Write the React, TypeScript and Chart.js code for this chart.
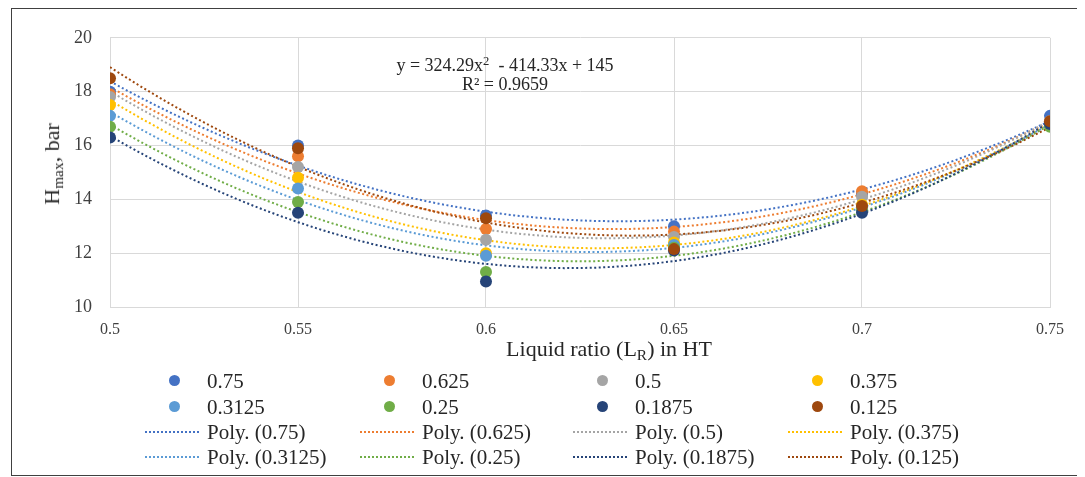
import React, { useEffect, useRef } from "react";
import { Chart, registerables } from "chart.js";

Chart.register(...registerables);

// ---------- data ----------
const xValues = [0.5, 0.55, 0.6, 0.65, 0.7, 0.75];
const xTicks = [0.5, 0.55, 0.6, 0.65, 0.7, 0.75];
const yTicks = [10, 12, 14, 16, 18, 20];

const seriesNames = ["0.75", "0.625", "0.5", "0.375", "0.3125", "0.25", "0.1875", "0.125"];
const s0750 = [18.0, 16.0, 13.4, 13.0, 14.2, 17.1];
const s0625 = [17.9, 15.6, 12.9, 12.8, 14.3, 16.9];
const s0500 = [17.8, 15.2, 12.5, 12.6, 14.1, 16.9];
const s0375 = [17.5, 14.8, 12.0, 12.4, 13.8, 16.8];
const s03125 = [17.1, 14.4, 11.9, 12.3, 13.7, 16.8];
const s0250 = [16.7, 13.9, 11.3, 12.2, 13.6, 16.7];
const s01875 = [16.3, 13.5, 10.95, 12.1, 13.5, 16.8];
const s0125 = [18.5, 15.9, 13.3, 12.15, 13.75, 16.9];
const seriesValues = [s0750, s0625, s0500, s0375, s03125, s0250, s01875, s0125];

const seriesColors = ["#4472C4", "#ED7D31", "#A5A5A5", "#FFC000", "#5B9BD5", "#70AD47", "#264478", "#9E480E"];

const equationLine1 = ["y = 324.29x", "2", "\u00a0 - 414.33x + 145"];
const equationLine2 = "R\u00b2 = 0.9659";

const SERIF = '"Liberation Serif", "Times New Roman", serif';

// least-squares quadratic trendline (as Excel's "Poly." order 2 trendline)
function quadFit(xs: number[], ys: number[]) {
  let n = xs.length, sx = 0, sx2 = 0, sx3 = 0, sx4 = 0, sy = 0, sxy = 0, sx2y = 0;
  for (let i = 0; i < n; i++) {
    const x = xs[i], y = ys[i];
    sx += x; sx2 += x * x; sx3 += x * x * x; sx4 += x * x * x * x;
    sy += y; sxy += x * y; sx2y += x * x * y;
  }
  const det3 = (m: number[][]) =>
    m[0][0] * (m[1][1] * m[2][2] - m[1][2] * m[2][1]) -
    m[0][1] * (m[1][0] * m[2][2] - m[1][2] * m[2][0]) +
    m[0][2] * (m[1][0] * m[2][1] - m[1][1] * m[2][0]);
  const A = [[n, sx, sx2], [sx, sx2, sx3], [sx2, sx3, sx4]];
  const B = [sy, sxy, sx2y];
  const D = det3(A);
  const col = (k: number) => A.map((row, r) => row.map((v, c) => (c === k ? B[r] : v)));
  const c0 = det3(col(0)) / D, c1 = det3(col(1)) / D, c2 = det3(col(2)) / D;
  return (x: number) => c0 + c1 * x + c2 * x * x;
}

const CANVAS_W = 1065;
const CANVAS_H = 466;

export default function App() {
  const ref = useRef<HTMLCanvasElement | null>(null);

  useEffect(() => {
    if (!ref.current) return;
    const scatterSets = seriesNames.map((name, i) => ({
      type: "scatter" as const,
      label: name,
      data: xValues.map((x, j) => ({ x, y: seriesValues[i][j] })),
      pointRadius: 6,
      pointHoverRadius: 6,
      pointBackgroundColor: seriesColors[i],
      pointBorderColor: seriesColors[i],
      pointBorderWidth: 0,
      showLine: false,
      order: 100 - i,
    }));
    const trendSets = seriesNames.map((name, i) => {
      const f = quadFit(xValues, seriesValues[i]);
      const x0 = xValues[0], x1 = xValues[xValues.length - 1];
      const steps = 60;
      const pts = [];
      for (let k = 0; k <= steps; k++) {
        const x = x0 + ((x1 - x0) * k) / steps;
        pts.push({ x, y: f(x) });
      }
      return {
        type: "line" as const,
        label: "Poly. (" + name + ")",
        data: pts,
        borderColor: seriesColors[i],
        borderWidth: 2,
        borderDash: [2, 2.5],
        pointRadius: 0,
        fill: false,
        tension: 0,
        order: 200 - i,
      };
    });

    const chart = new Chart(ref.current, {
      type: "scatter",
      data: { datasets: [...scatterSets, ...trendSets] as any },
      options: {
        animation: false,
        responsive: false,
        events: [],
        layout: { padding: { left: 0, top: 18, right: 25, bottom: 128 } },
        plugins: { legend: { display: false }, tooltip: { enabled: false } },
        scales: {
          x: {
            type: "linear",
            min: 0.5,
            max: 0.75,
            afterBuildTicks: (s: any) => { s.ticks = xTicks.map((v) => ({ value: v })); },
            afterFit: (s: any) => { s.height = 40; },
            ticks: {
              color: "#404040",
              font: { family: SERIF, size: 16 },
              padding: 13,
              maxRotation: 0,
              autoSkip: false,
              callback: (v: any) => String(Number(Number(v).toFixed(2))),
            },
            grid: { color: "#D9D9D9", lineWidth: 1, drawTicks: false },
            border: { color: "#D9D9D9" },
          },
          y: {
            type: "linear",
            min: 10,
            max: 20,
            afterBuildTicks: (s: any) => { s.ticks = yTicks.map((v) => ({ value: v })); },
            afterFit: (s: any) => { s.width = 98; },
            ticks: {
              color: "#404040",
              font: { family: SERIF, size: 18 },
              padding: 18,
            },
            grid: { color: "#D9D9D9", lineWidth: 1, drawTicks: false },
            border: { color: "#D9D9D9" },
          },
        },
      },
    });
    return () => chart.destroy();
  }, []);

  const colStarts = [133, 348, 561, 776];
  const rowCenters = [372, 398, 423, 448];
  const legendItems: { kind: "marker" | "line"; color: string; text: string }[] = [];
  seriesNames.forEach((n, i) => legendItems.push({ kind: "marker", color: seriesColors[i], text: n }));
  seriesNames.forEach((n, i) => legendItems.push({ kind: "line", color: seriesColors[i], text: "Poly. (" + n + ")" }));

  return (
    <div
      style={{
        position: "relative",
        marginLeft: 3,
        width: CANVAS_W,
        height: CANVAS_H,
        border: "1px solid #404040",
        background: "#fff",
        fontFamily: SERIF,
        color: "#262626",
      }}
    >
      <canvas ref={ref} width={CANVAS_W} height={CANVAS_H} style={{ position: "absolute", left: 0, top: 0 }} />

      {/* y axis title */}
      <div style={{ position: "absolute", left: 43, top: 155, width: 0, height: 0 }}>
        <div
          style={{
            position: "absolute",
            transform: "translate(-50%, -50%) rotate(-90deg)",
            whiteSpace: "nowrap",
            fontSize: 22,
            lineHeight: "24px",
          }}
        >
          H<sub style={{ fontSize: "0.7em", verticalAlign: "-0.25em" }}>max</sub>, bar
        </div>
      </div>

      {/* x axis title */}
      <div
        style={{
          position: "absolute",
          left: 597,
          top: 343,
          transform: "translate(-50%, -50%)",
          whiteSpace: "nowrap",
          fontSize: 22,
          lineHeight: "24px",
        }}
      >
        Liquid ratio (L<sub style={{ fontSize: "0.7em", verticalAlign: "-0.25em" }}>R</sub>) in HT
      </div>

      {/* trendline equation */}
      <div
        style={{
          position: "absolute",
          left: 493,
          top: 47,
          transform: "translateX(-50%)",
          textAlign: "center",
          whiteSpace: "nowrap",
          fontSize: 18,
          lineHeight: "19px",
          color: "#262626",
        }}
      >
        <div>
          {equationLine1[0]}
          <sup style={{ fontSize: "0.7em", verticalAlign: "0.5em", lineHeight: 0 }}>{equationLine1[1]}</sup>
          {equationLine1[2]}
        </div>
        <div>{equationLine2}</div>
      </div>

      {/* legend */}
      {legendItems.map((it, idx) => {
        const col = idx % 4;
        const row = Math.floor(idx / 4);
        const left = colStarts[col];
        const cy = rowCenters[row];
        return (
          <div key={idx} style={{ position: "absolute", left, top: cy - 12, height: 24, width: 214 }}>
            {it.kind === "marker" ? (
              <div
                style={{
                  position: "absolute",
                  left: 24,
                  top: 6,
                  width: 11,
                  height: 11,
                  borderRadius: "50%",
                  background: it.color,
                }}
              />
            ) : (
              <div
                style={{
                  position: "absolute",
                  left: 0,
                  top: 11,
                  width: 56,
                  height: 2,
                  background: `repeating-linear-gradient(to right, ${it.color} 0px, ${it.color} 2px, transparent 2px, transparent 4px)`,
                }}
              />
            )}
            <div
              style={{
                position: "absolute",
                left: 62,
                top: 0,
                fontSize: 21,
                lineHeight: "24px",
                whiteSpace: "nowrap",
                color: "#262626",
              }}
            >
              {it.text}
            </div>
          </div>
        );
      })}
    </div>
  );
}
